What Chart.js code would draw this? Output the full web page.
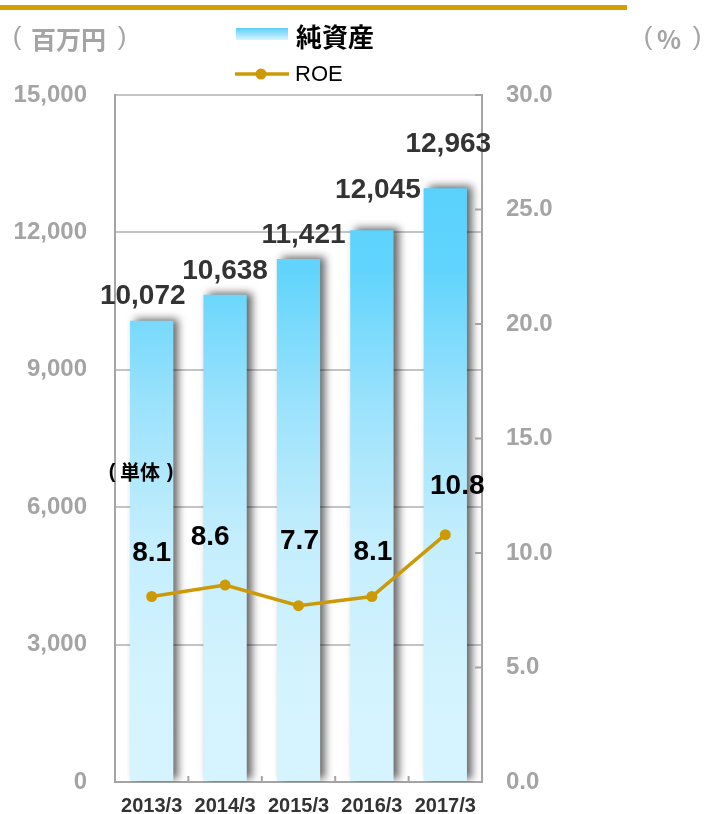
<!DOCTYPE html>
<html>
<head>
<meta charset="utf-8">
<script src="https://cdn.jsdelivr.net/npm/chart.js@4/dist/chart.umd.min.js"></script>
<style>
  html, body { margin: 0; padding: 0; background: #fff; overflow: hidden; }
  #wrap { position: relative; width: 706px; height: 814px; }
</style>
</head>
<body>
<div id="wrap"><canvas id="chartCanvas"></canvas></div>
<script>
// データ
const years = ['2013/3', '2014/3', '2015/3', '2016/3', '2017/3'];
const netAssets = [10072, 10638, 11421, 12045, 12963];   // 純資産（百万円）
const roe = [8.1, 8.6, 7.7, 8.1, 10.8];                  // ROE（%）
const leftTicks = [0, 3000, 6000, 9000, 12000, 15000];
const rightTicks = [0, 5, 10, 15, 20, 25, 30];

const GOLD = '#cc9a06';
const GRAY = '#a4a4a4';
const JP = '"Noto Sans CJK JP", "Noto Sans", sans-serif';
const EN = '"Liberation Sans", Arial, sans-serif';

function blueGradient(ctx, top, bottom) {
  const g = ctx.createLinearGradient(0, top, 0, bottom);
  g.addColorStop(0, '#52cffc');
  g.addColorStop(0.25, '#60d4fc');
  g.addColorStop(0.45, '#9be2fc');
  g.addColorStop(0.65, '#c4eefd');
  g.addColorStop(0.85, '#d3f3fe');
  g.addColorStop(1, '#d6f4fe');
  return g;
}

// 縦軸ラベルのはみ出し分の余白を無くす
function fixY(width) {
  return (s) => { s.width = width; s.paddingTop = 0; s.paddingBottom = 0; };
}

// 棒グラフの影
const shadowPlugin = {
  id: 'barShadow',
  beforeDatasetDraw(chart, args) {
    if (args.meta.type !== 'bar') return;
    const ctx = chart.ctx;
    ctx.save();
    ctx.shadowColor = 'rgba(0,0,0,0.6)';
    ctx.shadowBlur = 8;
    ctx.shadowOffsetX = 5;
    ctx.shadowOffsetY = -2;
  },
  afterDatasetDraw(chart, args) {
    if (args.meta.type !== 'bar') return;
    chart.ctx.restore();
  }
};

// 目盛り（内向き）
const tickMarkPlugin = {
  id: 'tickMarks',
  afterDraw(chart) {
    const { ctx, chartArea, scales } = chart;
    ctx.save();
    ctx.strokeStyle = GRAY;
    ctx.lineWidth = 2;
    rightTicks.forEach(v => {
      const y = scales.y1.getPixelForValue(v);
      ctx.beginPath();
      ctx.moveTo(chartArea.right, y);
      ctx.lineTo(chartArea.right - 7, y);
      ctx.stroke();
    });
    for (let i = 1; i < years.length; i++) {
      const x = (scales.x.getPixelForValue(i - 1) + scales.x.getPixelForValue(i)) / 2;
      ctx.beginPath();
      ctx.moveTo(x, chartArea.bottom);
      ctx.lineTo(x, chartArea.bottom - 6);
      ctx.stroke();
    }
    ctx.restore();
  }
};

// 数値ラベル
const valueLabelPlugin = {
  id: 'valueLabels',
  afterDatasetsDraw(chart) {
    const ctx = chart.ctx;
    const barMeta = chart.getDatasetMeta(1);
    const lineMeta = chart.getDatasetMeta(0);
    const barDx = [-9, 0, 5, 6, 3], barDy = [24, 23, 24, 40, 44];
    const lineDx = [0, -15, 1, 1, 12], lineDy = [43, 48, 64, 44, 48];
    ctx.save();
    ctx.textAlign = 'center';
    ctx.textBaseline = 'middle';
    ctx.font = 'bold 28px ' + EN;
    ctx.fillStyle = '#333333';
    barMeta.data.forEach((el, i) => {
      ctx.fillText(netAssets[i].toLocaleString('en-US'), el.x + barDx[i], el.y - barDy[i]);
    });
    ctx.fillStyle = '#000000';
    lineMeta.data.forEach((el, i) => {
      ctx.fillText(roe[i].toFixed(1), el.x + lineDx[i], el.y - lineDy[i]);
    });
    ctx.restore();
  }
};

// 凡例・単位
const headerPlugin = {
  id: 'header',
  afterDraw(chart) {
    const ctx = chart.ctx;
    ctx.save();
    ctx.fillStyle = '#d4a000';
    ctx.fillRect(0, 5, 627, 5);

    ctx.textBaseline = 'middle';
    ctx.textAlign = 'center';
    ctx.fillStyle = GRAY;
    ctx.font = '26px ' + EN;
    ctx.fillText('(', 17, 38);
    ctx.fillText(')', 122, 38);
    ctx.fillText('(', 648, 38);
    ctx.fillText(')', 697, 38);
    ctx.font = 'bold 25px ' + JP;
    ctx.fillText('%', 669, 39);
    ctx.textAlign = 'left';
    ctx.fillText('百万円', 31, 39);

    const lg = ctx.createLinearGradient(0, 28, 0, 40);
    lg.addColorStop(0, '#5ccff8');
    lg.addColorStop(1, '#d8f4fd');
    ctx.fillStyle = lg;
    ctx.fillRect(236, 28, 52, 12);
    ctx.fillStyle = '#000';
    ctx.font = 'bold 26px ' + JP;
    ctx.fillText('純資産', 296, 37);

    ctx.strokeStyle = GOLD;
    ctx.lineWidth = 3.5;
    ctx.beginPath();
    ctx.moveTo(235, 74);
    ctx.lineTo(289, 74);
    ctx.stroke();
    ctx.fillStyle = GOLD;
    ctx.beginPath();
    ctx.arc(261, 74, 5.5, 0, Math.PI * 2);
    ctx.fill();
    ctx.fillStyle = '#000';
    ctx.font = '22px ' + EN;
    ctx.fillText('ROE', 295, 75);

    ctx.font = 'bold 20px ' + JP;
    ctx.fillText('単体', 120, 472);
    ctx.textAlign = 'center';
    ctx.font = 'bold 20px ' + EN;
    ctx.fillText('(', 112, 472);
    ctx.fillText(')', 170, 472);
    ctx.restore();
  }
};

new Chart(document.getElementById('chartCanvas'), {
  data: {
    labels: years,
    datasets: [
      {
        type: 'line',
        label: 'ROE',
        data: roe,
        yAxisID: 'y1',
        order: 0,
        borderColor: GOLD,
        backgroundColor: GOLD,
        borderWidth: 3.5,
        pointRadius: 5.5,
        pointBackgroundColor: GOLD,
        pointBorderWidth: 0,
        tension: 0
      },
      {
        type: 'bar',
        label: '純資産',
        data: netAssets,
        yAxisID: 'y',
        order: 1,
        backgroundColor: (c) => {
          const area = c.chart.chartArea;
          if (!area) return '#9fe3fc';
          return blueGradient(c.chart.ctx, area.top, area.bottom);
        },
        borderWidth: 0,
        categoryPercentage: 1,
        barPercentage: 0.59
      }
    ]
  },
  options: {
    responsive: true,
    maintainAspectRatio: false,
    animation: false,
    devicePixelRatio: 1,
    layout: { padding: { top: 95, left: 0, right: 0, bottom: 0 } },
    plugins: {
      legend: { display: false },
      tooltip: { enabled: false }
    },
    scales: {
      x: {
        grid: { display: false },
        border: { color: GRAY, width: 2 },
        ticks: { color: '#333333', font: { family: EN, size: 20, weight: 'bold' }, padding: 4 },
        afterFit: (s) => { s.height = 32; }
      },
      y: {
        position: 'left',
        min: 0,
        max: 15000,
        afterBuildTicks: (s) => { s.ticks = leftTicks.map(v => ({ value: v })); },
        ticks: {
          color: GRAY,
          font: { family: EN, size: 24, weight: 'bold' },
          padding: 28,
          callback: (v) => v.toLocaleString('en-US')
        },
        grid: { color: '#c4c4c4', lineWidth: 2, drawTicks: false },
        border: { color: GRAY, width: 2 },
        afterFit: fixY(115)
      },
      y1: {
        position: 'right',
        min: 0,
        max: 30,
        afterBuildTicks: (s) => { s.ticks = rightTicks.map(v => ({ value: v })); },
        ticks: {
          color: GRAY,
          font: { family: EN, size: 24, weight: 'bold' },
          padding: 24,
          callback: (v) => v.toFixed(1)
        },
        grid: { drawOnChartArea: false, drawTicks: false },
        border: { color: GRAY, width: 2 },
        afterFit: fixY(224)
      }
    }
  },
  plugins: [shadowPlugin, valueLabelPlugin, tickMarkPlugin, headerPlugin]
});
</script>
</body>
</html>
